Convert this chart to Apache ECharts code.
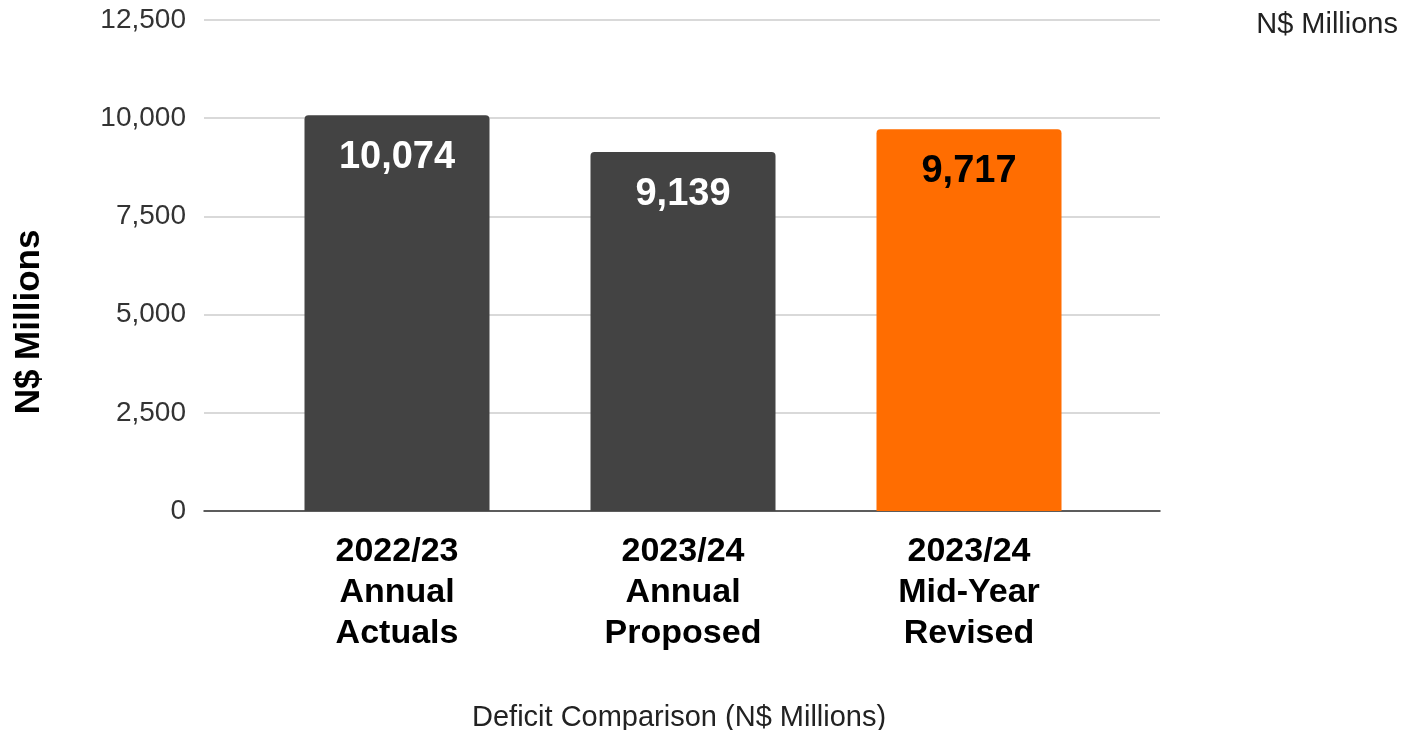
<!DOCTYPE html>
<html>
<head>
<meta charset="utf-8">
<script src="https://cdn.jsdelivr.net/npm/echarts@6/dist/echarts.min.js"></script>
<style>
html,body{margin:0;padding:0;background:#fff;}
#chart{width:1406px;height:730px;}
</style>
</head>
<body>
<div id="chart"></div>
<script>
var categories = ['2022/23\nAnnual\nActuals', '2023/24\nAnnual\nProposed', '2023/24\nMid-Year\nRevised'];
var values = [10074, 9139, 9717];
var barColors = ['#434343', '#434343', '#ff6d01'];
var labelColors = ['#ffffff', '#ffffff', '#000000'];
var yTicks = [0, 2500, 5000, 7500, 10000, 12500];

var FONT = '"Liberation Sans", Arial, sans-serif';
var chart = echarts.init(document.getElementById('chart'));

var option = {
  animation: false,
  backgroundColor: '#ffffff',
  textStyle: { fontFamily: FONT },
  title: [
    { text: 'N$ Millions', right: 3, top: 5,
      textStyle: { fontFamily: FONT, fontSize: 29, fontWeight: 'normal', color: '#222' } },
    { text: 'Deficit Comparison (N$ Millions)', left: 467, top: 698,
      textStyle: { fontFamily: FONT, fontSize: 29, fontWeight: 'normal', color: '#222' } }
  ],
  graphic: [{
    type: 'text', x: 29, y: 322, rotation: Math.PI / 2,
    style: { text: 'N$ Millions', fontFamily: FONT, fontSize: 35, fontWeight: 'bold',
      fill: '#000', align: 'center', verticalAlign: 'middle' }
  }],
  grid: [
    { left: 204, width: 956, top: 20, height: 491 },
    { left: 254, width: 858, top: 20, height: 491 }
  ],
  xAxis: [
    { type: 'category', gridIndex: 0, data: categories,
      axisLabel: { show: false }, axisTick: { show: false },
      axisLine: { show: true, lineStyle: { color: '#333', width: 1.5 } } },
    { type: 'category', gridIndex: 1, data: categories,
      axisTick: { show: false }, axisLine: { show: false },
      axisLabel: { fontFamily: FONT, fontSize: 34, fontWeight: 'bold', color: '#000',
        lineHeight: 41, margin: 20, interval: 0 } }
  ],
  yAxis: [
    { type: 'value', gridIndex: 0, min: yTicks[0], max: yTicks[yTicks.length - 1], interval: 2500,
      axisLine: { show: false }, axisTick: { show: false },
      splitLine: { lineStyle: { color: '#cccccc', width: 1.5 } },
      axisLabel: { fontFamily: FONT, fontSize: 28, color: '#333', margin: 18,
        formatter: function (v) { return v.toLocaleString('en-US'); } } },
    { type: 'value', gridIndex: 1, min: yTicks[0], max: yTicks[yTicks.length - 1],
      show: false }
  ],
  series: [{
    type: 'bar', xAxisIndex: 1, yAxisIndex: 1, barWidth: 185,
    data: values.map(function (v, i) {
      return {
        value: v,
        itemStyle: { color: barColors[i], borderRadius: [4, 4, 0, 0] },
        label: { color: labelColors[i] }
      };
    }),
    label: {
      show: true, position: 'insideTop', distance: 23,
      fontFamily: FONT, fontSize: 38, fontWeight: 'bold',
      formatter: function (p) { return p.value.toLocaleString('en-US'); }
    }
  }]
};
chart.setOption(option);
</script>
</body>
</html>
